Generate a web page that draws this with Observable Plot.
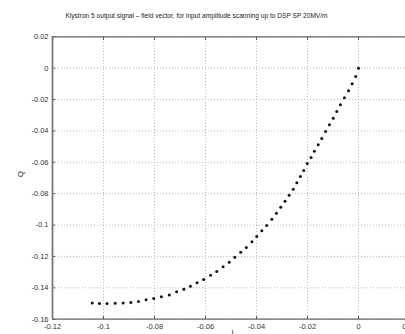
<!DOCTYPE html>
<html>
<head>
<meta charset="utf-8">
<script src="https://cdn.jsdelivr.net/npm/d3@7"></script>
<script src="https://cdn.jsdelivr.net/npm/@observablehq/plot@0.6"></script>
<style>
  html, body { margin: 0; padding: 0; background: #fff; }
  svg { display: block; }
</style>
</head>
<body>
<div id="chart"></div>
<script>
const titleText = "Klystron 5 output signal \u2013 field vector, for input amplitude scanning up to DSP SP 20MV/m";
const xLabel = "I";
const yLabel = "Q";
const xTicks = [-0.12, -0.1, -0.08, -0.06, -0.04, -0.02, 0, 0.02];
const yTicks = [0.02, 0, -0.02, -0.04, -0.06, -0.08, -0.1, -0.12, -0.14, -0.16];

const I = [0, -0.0011, -0.0025, -0.0039, -0.0055, -0.0071, -0.0085, -0.0099, -0.0114, -0.0129,
  -0.0144, -0.0158, -0.0173, -0.0186, -0.0201, -0.0215, -0.0228, -0.0242, -0.0256, -0.0272,
  -0.0288, -0.0305, -0.0322, -0.0340, -0.0360, -0.0379, -0.0399, -0.0418, -0.0440, -0.0462,
  -0.0485, -0.0507, -0.0531, -0.0556, -0.0580, -0.0607, -0.0633, -0.0659, -0.0685, -0.0713,
  -0.0742, -0.0773, -0.0803, -0.0833, -0.0863, -0.0893, -0.0923, -0.0954, -0.0986, -0.1016, -0.1044];
const Q = [0, -0.0053, -0.0100, -0.0144, -0.0189, -0.0233, -0.0276, -0.0319, -0.0361, -0.0404,
  -0.0448, -0.0488, -0.0529, -0.0569, -0.0608, -0.0652, -0.0690, -0.0731, -0.0771, -0.0810,
  -0.0848, -0.0886, -0.0924, -0.0963, -0.1003, -0.1037, -0.1073, -0.1107, -0.1143, -0.1173,
  -0.1205, -0.1237, -0.1266, -0.1296, -0.1320, -0.1347, -0.1368, -0.1390, -0.1409, -0.1425,
  -0.1445, -0.1457, -0.1468, -0.1476, -0.1487, -0.1494, -0.1496, -0.1498, -0.1500, -0.1500, -0.1496];

const data = I.map((d, i) => ({I: d, Q: Q[i]}));
const fmt = d => String(+d.toFixed(2)).replace("\u2212", "-");
const font = "Liberation Sans, Arial, sans-serif";
const xDomain = [-0.12, 0.02];
const yDomain = [-0.16, 0.02];

const chart = Plot.plot({
  width: 405,
  height: 334,
  marginLeft: 52,
  marginTop: 36,
  marginRight: 0,
  marginBottom: 15,
  style: {fontFamily: font, fontSize: "7.5px", background: "#fff", color: "#333"},
  x: {domain: xDomain, range: [52, 409]},
  y: {domain: yDomain, range: [318.7, 36.3]},
  marks: [
    Plot.gridX(xTicks, {stroke: "#999", strokeOpacity: 1, strokeWidth: 0.7, strokeDasharray: "1,2"}),
    Plot.gridY(yTicks, {stroke: "#999", strokeOpacity: 1, strokeWidth: 0.7, strokeDasharray: "1,2"}),
    Plot.axisX(xTicks, {anchor: "bottom", tickSize: -3, tickPadding: 7, tickFormat: fmt, label: null, stroke: "#555", fill: "#333"}),
    Plot.axisX(xTicks, {anchor: "top", tickSize: -3, tickFormat: () => "", label: null, stroke: "#555"}),
    Plot.axisY(yTicks, {anchor: "left", tickSize: -3, tickPadding: 7, tickFormat: fmt, label: null, stroke: "#555", fill: "#333"}),
    Plot.ruleY(yDomain, {stroke: "#666", strokeWidth: 1.3}),
    Plot.ruleX([xDomain[0]], {stroke: "#777", strokeWidth: 1.8}),
    Plot.dot(data, {x: "I", y: "Q", r: 1.5, fill: "#111", stroke: null}),
    Plot.text([titleText], {frameAnchor: "top-left", dx: 144, dy: -23, textAnchor: "middle", fontSize: 6.6, fill: "#222"}),
    Plot.text([yLabel], {frameAnchor: "left", dx: -32, dy: -1, rotate: -90, fontSize: 7.5, fill: "#222"}),
    Plot.text([xLabel], {frameAnchor: "bottom-left", dx: 179, dy: 15, fontSize: 7.5, fill: "#222"})
  ]
});
document.getElementById("chart").appendChild(chart);
</script>
</body>
</html>
